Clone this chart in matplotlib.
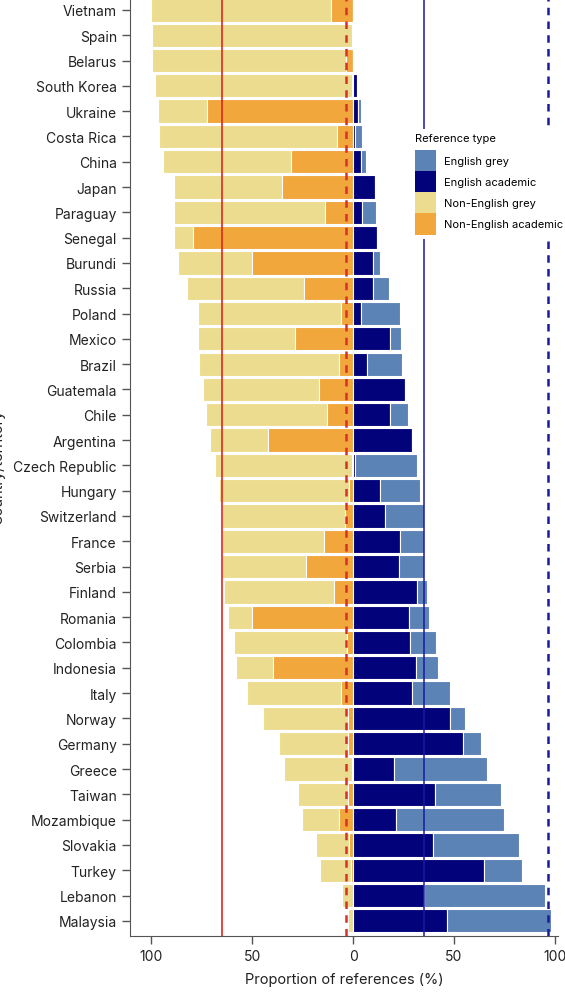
import matplotlib.pyplot as plt
import numpy as np

countries = ["Vietnam", "Spain", "Belarus", "South Korea", "Ukraine", "Costa Rica", "China",
             "Japan", "Paraguay", "Senegal", "Burundi", "Russia", "Poland", "Mexico", "Brazil",
             "Guatemala", "Chile", "Argentina", "Czech Republic", "Hungary", "Switzerland",
             "France", "Serbia", "Finland", "Romania", "Colombia", "Indonesia", "Italy", "Norway",
             "Germany", "Greece", "Taiwan", "Mozambique", "Slovakia", "Turkey", "Lebanon", "Malaysia"]

# non-English (drawn to the left)
non_eng_academic = [11, 0.5, 3.5, 0.5, 72.5, 8, 31, 35, 14, 79.5, 50, 24.5, 6, 29, 7, 17, 13, 42,
                    0.5, 2, 4, 14.5, 23.5, 9.5, 50, 3, 39.5, 6, 2.5, 2.5, 0.3, 2.5, 7, 2, 1, 0, 0]
non_eng_grey = [89, 99.1, 96.1, 97.7, 23.9, 88.3, 63, 53.6, 74.6, 9.1, 36.9, 57.6, 70.7, 47.7,
                69.2, 57.4, 60, 28.9, 67.7, 64.6, 60.8, 50.3, 41.3, 54.3, 12.2, 56.1, 18.6, 46.4,
                42.1, 34.4, 33.8, 24.7, 18.2, 16.3, 15.5, 5.5, 2.5]
# English (drawn to the right)
eng_academic = [0, 0, 0, 2.1, 2.3, 0.9, 3.9, 10.7, 4.6, 11.7, 9.9, 9.9, 3.7, 18.1, 6.7, 25.8,
                18.3, 29, 0.9, 13.3, 15.8, 23.1, 22.6, 31.8, 27.7, 28.1, 31.1, 29, 48.1, 54.2,
                20.1, 40.5, 21.1, 39.4, 64.7, 35.3, 46.4]
eng_grey = [0.3, 0.5, 0.7, 0, 1.6, 3.5, 2.3, 0.7, 6.6, 0, 3.4, 8, 19.6, 5.5, 17.5, 0, 9.1, 0,
            30.7, 19.9, 19.4, 12.1, 12.6, 4.6, 10.1, 12.8, 11.2, 19, 7.1, 9, 46, 32.7, 53.9,
            42.6, 18.8, 59.7, 51.8]

# reference lines
non_eng_mean = -65
non_eng_acad_line = -3.3
eng_mean = 35
eng_total_line = 96.5

c_eng_grey = "#5b83b5"
c_eng_acad = "#02027a"
c_ne_grey = "#ecdc8f"
c_ne_acad = "#f1a73c"

plt.rcParams["font.family"] = ["Inter", "DejaVu Sans"]

fig = plt.figure(figsize=(5.65, 9.95), dpi=100)
ax = fig.add_axes([130 / 565, 58 / 995, 428 / 565, 940 / 995])

y = np.arange(len(countries))
nea = np.array(non_eng_academic)
neg = np.array(non_eng_grey)
ea = np.array(eng_academic)
eg = np.array(eng_grey)

kw = dict(height=0.92, edgecolor="white", linewidth=0.8)
ax.barh(y, -neg, left=-nea, color=c_ne_grey, label="Non-English grey", **kw)
ax.barh(y, -nea, color=c_ne_acad, label="Non-English academic", **kw)
ax.barh(y, ea, color=c_eng_acad, label="English academic", **kw)
ax.barh(y, eg, left=ea, color=c_eng_grey, label="English grey", **kw)

ax.axvline(non_eng_mean, color="#e0281c", lw=1.2, zorder=3)
ax.axvline(non_eng_acad_line, color="#d8302a", lw=1.8, ls=(0, (3, 2.5)), zorder=3)
ax.axvline(eng_mean, color="#1a1aa0", lw=1.1, zorder=3)
ax.axvline(eng_total_line, color="#1a1aa0", lw=1.8, ls=(0, (3, 2.5)), zorder=3)

ax.set_xlim(-110.5, 101.5)
ax.set_ylim(36.6, -0.55)
ax.set_yticks(y)
ax.set_yticklabels(countries)
ax.set_xticks([-100, -50, 0, 50, 100])
ax.set_xticklabels(["100", "50", "0", "50", "100"])
ax.tick_params(labelsize=10, colors="#555555", labelcolor="#222222", length=6, width=1)
for s in ["top", "right"]:
    ax.spines[s].set_visible(False)
for s in ["left", "bottom"]:
    ax.spines[s].set_color("#555555")
ax.set_xlabel("Proportion of references (%)", fontsize=10.5, color="#222222", labelpad=6)
ax.set_ylabel("Country/territory", fontsize=10.5, color="#222222")
ax.yaxis.set_label_coords(-0.292, 0.5)

handles, labels = ax.get_legend_handles_labels()
order = [3, 2, 0, 1]
leg = ax.legend([handles[i] for i in order], [labels[i] for i in order],
                title="Reference type", loc="upper left",
                bbox_to_anchor=(405 / 565, 1 - 124 / 995), bbox_transform=fig.transFigure,
                fontsize=8, title_fontsize=8, alignment="left",
                handlelength=1.9, handleheight=2.55, labelspacing=0, handletextpad=0.7,
                frameon=True, fancybox=False, facecolor="white", edgecolor="none",
                framealpha=1, borderpad=0.4)
leg._legend_box.sep = 5
leg.set_zorder(5)
for h in leg.legend_handles:
    h.set_edgecolor("none")

fig.savefig("out.png", dpi=100)
